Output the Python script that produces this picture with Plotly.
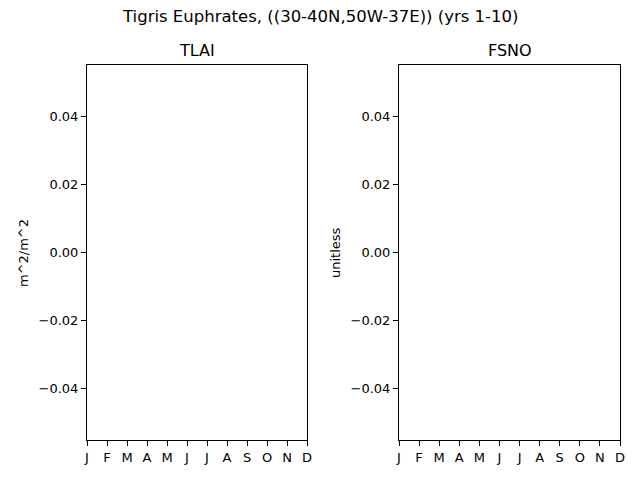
import numpy as np
import plotly.graph_objects as go

# monthly climatology (no valid data in this region -> all NaN)
months = ["J", "F", "M", "A", "M", "J", "J", "A", "S", "O", "N", "D"]
month_idx = list(range(1, 13))
tlai = [np.nan] * 12
fsno = [np.nan] * 12

panels = [("TLAI", "m^2/m^2", tlai), ("FSNO", "unitless", fsno)]
suptitle = "Tigris Euphrates, ((30-40N,50W-37E)) (yrs 1-10)"
yticks = [-0.04, -0.02, 0.0, 0.02, 0.04]

font = "DejaVu Sans"
ML, MR, MT, MB = 60, 10, 50, 30
W, H = 640, 480
PW, PH = W - ML - MR, H - MT - MB
OFF = 8  # page body margin in the browser


def px(xp):
    return (xp - OFF - ML) / PW


def py(yp):
    return (H - MB - (yp - OFF)) / PH


fig = go.Figure()

domains = [(px(87), px(307)), (px(399), px(620))]
ydom = (py(440), py(65))

for i, (name, unit, vals) in enumerate(panels):
    n = "" if i == 0 else str(i + 1)
    fig.add_trace(go.Scatter(x=month_idx, y=vals, mode="lines",
                             line=dict(color="#1f77b4"), showlegend=False,
                             xaxis="x" + n, yaxis="y" + n))
    axcommon = dict(showline=True, linecolor="black", linewidth=1, mirror=True,
                    ticks="outside", ticklen=5, tickwidth=1, tickcolor="black",
                    showgrid=False, zeroline=False, automargin=False,
                    tickfont=dict(family=font, size=13, color="black"))
    fig.layout["xaxis" + n] = dict(domain=domains[i], range=[1, 12],
                                   tickvals=month_idx, ticktext=months,
                                   anchor="y" + n, **axcommon)
    fig.layout["yaxis" + n] = dict(domain=ydom, range=[-0.055, 0.055],
                                   tickvals=yticks, tickformat=".2f",
                                   anchor="x" + n, **axcommon)
    xc = (domains[i][0] + domains[i][1]) / 2
    fig.add_annotation(text=name, x=xc, y=py(51), xref="paper", yref="paper",
                       showarrow=False, xanchor="center", yanchor="middle",
                       font=dict(family=font, size=16, color="black"))
    ylab_x = px(23) if i == 0 else px(335)
    fig.add_annotation(text=unit, x=ylab_x, y=py(253), xref="paper", yref="paper",
                       showarrow=False, textangle=-90, xanchor="center", yanchor="middle",
                       font=dict(family=font, size=13, color="black"))

fig.add_annotation(text=suptitle, x=px(320), y=py(16),
                   xref="paper", yref="paper",
                   showarrow=False, xanchor="center", yanchor="middle",
                   font=dict(family=font, size=16.5, color="black"))

fig.update_layout(width=W, height=H, margin=dict(l=ML, r=MR, t=MT, b=MB),
                  paper_bgcolor="white", plot_bgcolor="white")

fig.write_html("out.html")
